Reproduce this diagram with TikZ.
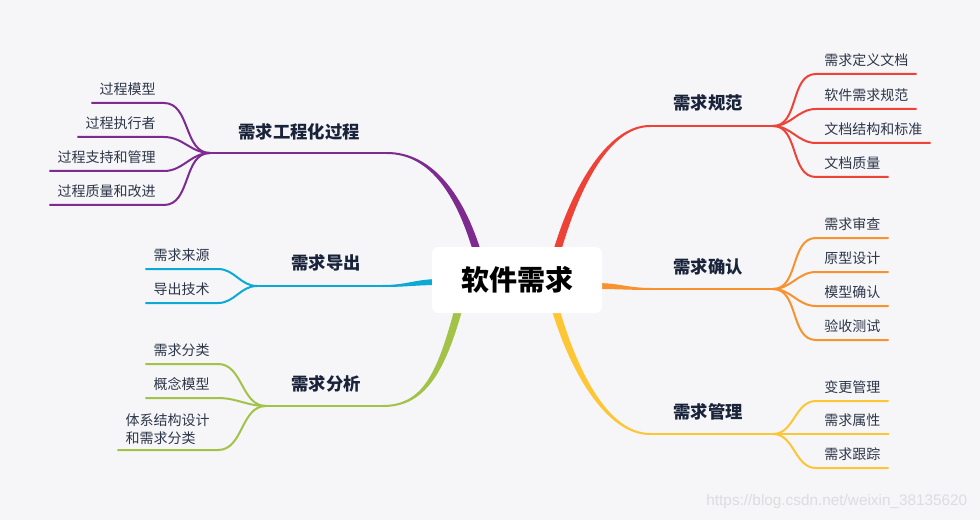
\documentclass[tikz,border=0pt]{standalone}
\usepackage{fontspec}
\setmainfont{Noto Sans CJK SC}
\newfontfamily\wmfont{Liberation Sans}
\usepackage{tikz}
\usetikzlibrary{calc,positioning}

\definecolor{cBg}{HTML}{F6F6F9}
\definecolor{cPurple}{HTML}{7D2B8F}
\definecolor{cCyan}{HTML}{0AAAD4}
\definecolor{cGreen}{HTML}{A3C248}
\definecolor{cRed}{HTML}{EF4237}
\definecolor{cOrange}{HTML}{F7922E}
\definecolor{cYellow}{HTML}{FCC634}
\definecolor{cNavy}{HTML}{19233A}
\definecolor{cText}{HTML}{2D3648}
\definecolor{cMark}{HTML}{DCDCE1}

\begin{document}
\begin{tikzpicture}[x=0.75pt, y=-0.75pt,
  root/.style  = {rectangle, fill=white, rounded corners=5pt,
                  minimum width=127.5pt, minimum height=49.5pt,
                  font=\bfseries\fontsize{21}{24}\selectfont},
  topic/.style = {font=\bfseries\fontsize{13}{15}\selectfont, text=cNavy},
  leaf/.style  = {font=\fontsize{10.5}{13.5}\selectfont, text=cText,
                  inner xsep=6pt, inner ysep=4pt,
                  text height=8pt, text depth=2.5pt},
  leaftwo/.style = {font=\fontsize{10.5}{13.5}\selectfont, text=cText,
                  inner xsep=6pt, inner ysep=4pt, align=left},
  ln/.style    = {line width=1.5pt},
  wm/.style    = {font=\wmfont\fontsize{11.5}{13}\selectfont, text=cMark}
]

% - background -
\fill[cBg] (0,0) rectangle (980,520);
\useasboundingbox (0,0) rectangle (980,520);

% - fork points and trunk ends -
\coordinate (procA) at (480,262);  \coordinate (procR) at (387,153);  \coordinate (procL) at (210,153);
\coordinate (derA)  at (440,282);  \coordinate (derR)  at (383,286);  \coordinate (derL)  at (257,286);
\coordinate (anaA)  at (461,300);  \coordinate (anaR)  at (383,406);  \coordinate (anaL)  at (266,406);
\coordinate (regA)  at (554,262);  \coordinate (regR)  at (650,126);  \coordinate (regL)  at (773,126);
\coordinate (confA) at (595,286);  \coordinate (confR) at (652,289);  \coordinate (confL) at (773,289);
\coordinate (mgmtA) at (553,300);  \coordinate (mgmtR) at (650,434);  \coordinate (mgmtL) at (773,434);

% - tapered trunks -
\fill[cPurple] ($(procR)+(0,-1)$) .. controls +(45,0) and +(-18,-67) .. ($(procA)+(4,0)$)
  -- ($(procA)+(-4,0)$) .. controls +(-18,-67) and +(43,0) .. ($(procR)+(0,1)$) -- cycle;
\fill[cRed] ($(regR)+(0,-1)$) .. controls +(-45,0) and +(18,-67) .. ($(regA)+(-4,0)$)
  -- ($(regA)+(4,0)$) .. controls +(18,-67) and +(-43,0) .. ($(regR)+(0,1)$) -- cycle;
\fill[cYellow] ($(mgmtR)+(0,1)$) .. controls +(-45,0) and +(18,67) .. ($(mgmtA)+(-4,0)$)
  -- ($(mgmtA)+(4,0)$) .. controls +(18,67) and +(-43,0) .. ($(mgmtR)+(0,-1)$) -- cycle;
\fill[cGreen] ($(anaR)+(0,1)$) .. controls +(45,0) and +(-18,67) .. ($(anaA)+(4,0)$)
  -- ($(anaA)+(-4,0)$) .. controls +(-18,67) and +(43,0) .. ($(anaR)+(0,-1)$) -- cycle;
\fill[cCyan] ($(derR)+(0,-1)$) .. controls +(25,0) and +(-25,0) .. ($(derA)+(0,-3)$)
  -- ($(derA)+(0,3)$) .. controls +(-25,0) and +(25,0) .. ($(derR)+(0,1)$) -- cycle;
\fill[cOrange] ($(confR)+(0,-1)$) .. controls +(-25,0) and +(25,0) .. ($(confA)+(0,-3)$)
  -- ($(confA)+(0,3)$) .. controls +(25,0) and +(-25,0) .. ($(confR)+(0,1)$) -- cycle;

% - centre -
\node[root] (root) at (517,280) {软件需求};

% - branch labels -
\node[topic] (proc) at (299,132) {需求工程化过程};
\node[topic] (der)  at (326,263) {需求导出};
\node[topic] (ana)  at (326,384) {需求分析};
\node[topic] (reg)  at (708,103) {需求规范};
\node[topic] (conf) at (708,267) {需求确认};
\node[topic] (mgmt) at (708,412) {需求管理};

\draw[ln, cPurple] (procR) -- (procL);
\draw[ln, cCyan]   (derR)  -- (derL);
\draw[ln, cGreen]  (anaR)  -- (anaL);
\draw[ln, cRed]    (regR)  -- (regL);
\draw[ln, cOrange] (confR) -- (confL);
\draw[ln, cYellow] (mgmtR) -- (mgmtL);

% - left leaves -
\node[leaf, anchor=south east] (proc1) at (164,103) {过程模型};
\node[leaf, anchor=south east] (proc2) at (164,137) {过程执行者};
\node[leaf, anchor=south east] (proc3) at (164,171) {过程支持和管理};
\node[leaf, anchor=south east] (proc4) at (164,205) {过程质量和改进};

\node[leaf, anchor=south east] (der1) at (218,269) {需求来源};
\node[leaf, anchor=south east] (der2) at (218,303) {导出技术};

\node[leaf, anchor=south east] (ana1) at (218,364) {需求分类};
\node[leaf, anchor=south east] (ana2) at (218,398) {概念模型};
\node[leaftwo, anchor=south east] (ana3) at (218,450) {体系结构设计\\和需求分类};

% - right leaves -
\node[leaf, anchor=south west] (reg1) at (816,74)  {需求定义文档};
\node[leaf, anchor=south west] (reg2) at (816,109) {软件需求规范};
\node[leaf, anchor=south west] (reg3) at (816,143) {文档结构和标准};
\node[leaf, anchor=south west] (reg4) at (816,177) {文档质量};

\node[leaf, anchor=south west] (conf1) at (816,238) {需求审查};
\node[leaf, anchor=south west] (conf2) at (816,272) {原型设计};
\node[leaf, anchor=south west] (conf3) at (816,306) {模型确认};
\node[leaf, anchor=south west] (conf4) at (816,340) {验收测试};

\node[leaf, anchor=south west] (mgmt1) at (816,401) {变更管理};
\node[leaf, anchor=south west] (mgmt2) at (816,434) {需求属性};
\node[leaf, anchor=south west] (mgmt3) at (816,468) {需求跟踪};

% - leaf connectors -
\draw[ln, cPurple] (procL) to[out=180,in=0] (proc1.south east) -- (proc1.south west);
\draw[ln, cPurple] (procL) to[out=180,in=0] (proc2.south east) -- (proc2.south west);
\draw[ln, cPurple] (procL) to[out=180,in=0] (proc3.south east) -- (proc3.south west);
\draw[ln, cPurple] (procL) to[out=180,in=0] (proc4.south east) -- (proc4.south west);

\draw[ln, cCyan] (derL) to[out=180,in=0] (der1.south east) -- (der1.south west);
\draw[ln, cCyan] (derL) to[out=180,in=0] (der2.south east) -- (der2.south west);

\draw[ln, cGreen] (anaL) to[out=180,in=0] (ana1.south east) -- (ana1.south west);
\draw[ln, cGreen] (anaL) to[out=180,in=0] (ana2.south east) -- (ana2.south west);
\draw[ln, cGreen] (anaL) to[out=180,in=0] (ana3.south east) -- (ana3.south west);

\draw[ln, cRed] (regL) to[out=0,in=180] (reg1.south west) -- (reg1.south east);
\draw[ln, cRed] (regL) to[out=0,in=180] (reg2.south west) -- (reg2.south east);
\draw[ln, cRed] (regL) to[out=0,in=180] (reg3.south west) -- (reg3.south east);
\draw[ln, cRed] (regL) to[out=0,in=180] (reg4.south west) -- (reg4.south east);

\draw[ln, cOrange] (confL) to[out=0,in=180] (conf1.south west) -- (conf1.south east);
\draw[ln, cOrange] (confL) to[out=0,in=180] (conf2.south west) -- (conf2.south east);
\draw[ln, cOrange] (confL) to[out=0,in=180] (conf3.south west) -- (conf3.south east);
\draw[ln, cOrange] (confL) to[out=0,in=180] (conf4.south west) -- (conf4.south east);

\draw[ln, cYellow] (mgmtL) to[out=0,in=180] (mgmt1.south west) -- (mgmt1.south east);
\draw[ln, cYellow] (mgmtL) to[out=0,in=180] (mgmt2.south west) -- (mgmt2.south east);
\draw[ln, cYellow] (mgmtL) to[out=0,in=180] (mgmt3.south west) -- (mgmt3.south east);

% - watermark -
\node[wm, anchor=east] (mark) at (972,502) {https://blog.csdn.net/weixin\_38135620};

\end{tikzpicture}
\end{document}
